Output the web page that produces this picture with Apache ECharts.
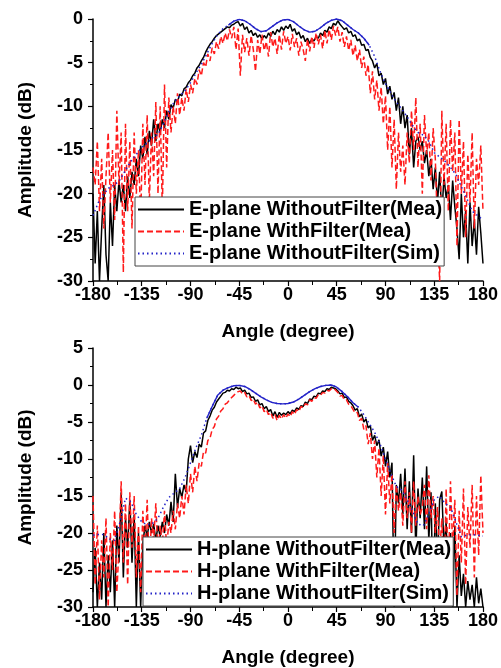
<!DOCTYPE html>
<html><head><meta charset="utf-8">
<script src="https://cdn.jsdelivr.net/npm/echarts@6/dist/echarts.min.js"></script>
<style>html,body{margin:0;padding:0;background:#fff}#c{width:501px;height:668px}</style>
</head><body><div id="c"></div>
<script>
// Measured data: angles -180..180 step 2 deg
const MEAS_START = -180, MEAS_STEP = 2;
// Simulated data: angles -180..180 step 5 deg
const SIM_START = -180, SIM_STEP = 5;
const xTicks = [-180,-135,-90,-45,0,45,90,135,180];

const eWithout = [-20,-28,-22,-30,-24,-19,-27,-30,-21,-26,-19,-22,-18.5,-21,-19,-22,-18,-20.5,-17.5,-19,-16,-18,-14.5,-16,-13.5,-15.5,-12.8,-14.5,-11.5,-14,-12,-13,-11.5,-12.5,-10.5,-11.5,-9.8,-10.2,-9.2,-9.5,-8.6,-8.8,-8,-7.8,-7.3,-7,-6.5,-6.2,-5.6,-5.3,-4.8,-4.4,-3.8,-3.3,-2.9,-2.6,-2.2,-1.9,-1.7,-1.5,-1.3,-1.1,-0.9,-1.0,-0.7,-0.6,-0.4,-0.3,-0.8,-0.5,-1.2,-0.9,-1.6,-1.3,-1.9,-1.6,-2.1,-1.8,-2.3,-1.9,-2.2,-1.6,-2.0,-1.4,-1.8,-1.2,-1.5,-0.9,-1.3,-0.8,-1.1,-0.6,-1.4,-1.1,-1.8,-1.5,-2.2,-1.9,-2.6,-2.2,-2.8,-2.3,-2.5,-2.0,-2.2,-1.6,-1.9,-1.3,-1.5,-0.9,-1.1,-0.5,-0.7,-0.2,-0.6,-0.9,-1.2,-1.0,-1.6,-1.4,-2.0,-1.8,-2.5,-2.3,-3.0,-2.9,-3.6,-3.5,-4.4,-4.8,-5.6,-5.1,-6.5,-6.2,-7.5,-6.8,-8.6,-7.7,-9.2,-8.4,-10.5,-9.0,-12.0,-10.0,-12.5,-11.0,-15.5,-12.5,-17.0,-14.0,-13.5,-15.0,-14.0,-16.5,-15.0,-18.0,-16.0,-19.5,-17.0,-21.0,-17.5,-22.5,-18.0,-20.5,-19.0,-23.0,-18.5,-21.5,-24.0,-27.5,-20.0,-25.0,-22.0,-28.0,-21.0,-26.0,-23.0,-27.0,-21.5,-24.5,-28.0];
const eWith = [-17,-19,-14,-22,-16,-24,-18,-13,-21,-15,-23,-10.5,-19,-13,-29,-12,-22,-14,-24,-13,-20,-15,-23,-12,-19,-11,-21,-13,-18,-9.5,-20,-10,-22,-7.5,-17,-9,-13,-10,-12,-8.5,-11,-9,-10.5,-8,-9.5,-7.5,-8.5,-6.8,-7.5,-5.8,-6.5,-5,-5.5,-4,-4.8,-3.3,-4,-2.6,-3.4,-2,-2.8,-1.6,-2.5,-1.2,-2.2,-0.9,-3.5,-1.1,-6.5,-1.8,-3.8,-2.2,-4.2,-1.9,-3.5,-6.0,-2.4,-4.0,-1.8,-3.6,-2.6,-4.3,-1.5,-3.2,-2.2,-4.0,-1.8,-3.5,-1.4,-2.8,-2.0,-3.6,-1.7,-3.2,-2.2,-4.2,-2.6,-3.5,-4.8,-2.3,-3.7,-2.0,-3.3,-1.6,-2.9,-1.8,-3.4,-1.3,-2.8,-1.2,-2.4,-0.8,-1.9,-0.9,-2.6,-1.5,-3.2,-2.0,-3.6,-2.4,-4.2,-3.0,-4.8,-3.5,-5.6,-4.3,-6.5,-5.2,-8.5,-6.0,-9.2,-7.0,-10.5,-7.8,-12.0,-8.8,-15.0,-10.0,-17.0,-11.5,-19.5,-13.0,-17.5,-14.5,-19.0,-13.0,-16.5,-10.5,-15.0,-9.0,-17.0,-12.0,-20.0,-11.0,-15.5,-13.0,-18.5,-12.5,-16.0,-24.0,-30.0,-10.5,-19.0,-12.0,-22.0,-11.5,-17.5,-13.0,-26.0,-11.5,-20.0,-14.0,-25.0,-15.5,-21.0,-13.0,-24.0,-16.0,-19.0,-14.5,-22.0];
const eSim = [-22.5,-21,-20,-19.3,-19,-18.4,-17.3,-16.3,-15.5,-14.7,-14.2,-13.6,-13.2,-12,-10.6,-9.5,-8.8,-8.2,-7.3,-6.2,-5.2,-4,-2.8,-1.8,-1.1,-0.7,-0.25,-0.05,-0.2,-0.6,-1.1,-1.45,-1.35,-0.9,-0.45,-0.12,-0.05,-0.3,-0.8,-1.25,-1.5,-1.4,-1.0,-0.5,-0.15,0,-0.2,-0.7,-1.2,-1.6,-2.2,-3.0,-4.3,-6,-7.4,-8.5,-9.5,-10.3,-11.2,-12.2,-13,-13.3,-14,-15.3,-15.8,-16.3,-17,-17.8,-19.2,-20.5,-22,-22.5,-23];

const hWithout = [-28,-22,-30,-24,-29,-20,-30,-23,-28,-21,-30,-19,-24,-14.5,-26,-18,-22,-15.5,-24,-17.5,-30,-20,-30,-21.5,-19,-20.5,-18.5,-20,-18.8,-21,-19,-20.5,-18.5,-20,-17.5,-19,-15.8,-18.5,-12,-16.5,-14,-15.2,-13.5,-14.5,-10,-8.2,-10.5,-9,-9.8,-8,-8.4,-6.5,-6.2,-4.8,-4.2,-3.4,-3.0,-2.3,-1.9,-1.5,-1.1,-1.0,-0.7,-0.8,-0.5,-0.6,-0.3,-0.5,-0.4,-0.9,-0.7,-1.2,-1.1,-1.7,-1.6,-2.2,-2.0,-2.7,-2.5,-3.2,-2.9,-3.6,-3.3,-4.2,-3.6,-4.4,-3.7,-4.1,-3.8,-4.0,-3.6,-3.9,-3.4,-3.6,-3.1,-3.3,-2.8,-2.9,-2.3,-2.5,-1.9,-2.0,-1.5,-1.6,-1.1,-1.2,-0.8,-0.9,-0.5,-0.6,-0.3,-0.4,-0.5,-0.8,-1.2,-1.1,-1.7,-1.6,-2.2,-2.4,-2.8,-3.4,-3.2,-4.3,-3.9,-5.0,-4.6,-5.8,-5.5,-7.5,-6.8,-8.2,-7.4,-9.6,-8.4,-11.0,-9.0,-12.5,-10.5,-30.0,-13.5,-16.0,-12.0,-17.5,-11.3,-19.5,-13.0,-20.0,-9.5,-22.5,-14.0,-18.0,-12.5,-19.5,-11.0,-21.0,-14.5,-30.0,-16.0,-24.0,-15.5,-14.4,-22.0,-18.5,-29.0,-20.0,-30.0,-19.0,-30.0,-23.0,-28.5,-25.5,-30.0,-26.5,-29.0,-27.0,-30.0,-26.0,-29.5,-27.5,-30.0];
const hWith = [-15,-27,-19,-29,-21,-26,-18,-30,-20,-25,-17,-28,-22,-13,-24,-16,-27,-14.5,-22,-15,-26,-19,-28,-17,-23,-15.5,-25,-18,-21,-16,-23,-19,-21.5,-17,-22,-18.5,-20,-17,-19.5,-16,-18,-15,-17.5,-13.5,-16,-12,-14.5,-11,-13,-10.5,-11,-9,-9.2,-7.5,-7.2,-6,-5.6,-4.6,-4.2,-3.5,-3.2,-2.6,-2.4,-2.0,-1.7,-1.4,-1.1,-0.9,-0.8,-1.2,-1.0,-1.6,-1.4,-2.1,-1.9,-2.6,-2.3,-3.1,-2.8,-3.6,-3.3,-4.0,-3.7,-4.5,-4.0,-4.8,-4.1,-4.6,-4.0,-4.5,-3.9,-4.3,-3.6,-4.0,-3.3,-3.6,-2.9,-3.1,-2.5,-2.7,-2.0,-2.2,-1.7,-1.8,-1.3,-1.4,-1.0,-1.1,-0.7,-0.8,-0.5,-0.4,-0.7,-1.0,-1.5,-1.4,-2.0,-2.0,-2.6,-2.8,-3.3,-3.8,-3.7,-4.8,-4.5,-6.0,-5.5,-8.0,-6.5,-10.0,-7.5,-12.5,-8.5,-15.0,-9.5,-17.5,-10.5,-16.0,-12.0,-20.0,-13.5,-17.0,-14.5,-19.0,-13.0,-18.0,-14.5,-20.0,-13.0,-19.0,-15.0,-17.5,-16.5,-13.5,-19.5,-12.2,-18.0,-15.0,-20.0,-16.5,-23.0,-18.0,-28.0,-14.0,-26.0,-13.0,-22.0,-15.5,-28.5,-17.0,-24.0,-14.0,-27.0,-16.5,-22.0,-13.5,-26.0,-15.0,-23.0,-12.2,-20.0];
const hSim = [-20.3,-20.2,-20.2,-20.8,-21,-18.5,-15.3,-15.8,-17.5,-18.5,-18.9,-18.7,-18,-16.5,-15.2,-14.6,-14,-12.5,-10.5,-8.5,-6.8,-4.5,-2.9,-1.4,-0.7,-0.35,-0.1,-0.05,-0.2,-0.6,-1.1,-1.6,-2.0,-2.35,-2.5,-2.55,-2.5,-2.3,-1.9,-1.4,-0.9,-0.5,-0.2,-0.05,0,-0.3,-0.9,-1.6,-2.4,-3.0,-4.0,-5.2,-6.4,-8.0,-10.0,-12.0,-13.7,-14.2,-15.5,-17.0,-18.8,-19.0,-17.5,-15.5,-15.0,-16.0,-16.5,-18.5,-20.5,-20.3,-20.2,-20.3,-20.4];

const names = {
  e: ['E-plane WithoutFilter(Mea)','E-plane WithFilter(Mea)','E-plane WithoutFilter(Sim)'],
  h: ['H-plane WithoutFilter(Mea)','H-plane WithFilter(Mea)','H-plane WithoutFilter(Sim)']
};

function pairs(vals, start, step){ return vals.map((v,i)=>[start+step*i, v]); }
function rangePairs(vals, start, step, lo, hi){ return pairs(vals,start,step).filter(p=>p[0]>=lo && p[0]<=hi); }

const FONT = "'Liberation Sans', Arial, sans-serif";
const BLACK = '#000000', RED = '#ff1a1a', BLUE = '#2323c8';

function xAxisCfg(gi){
  return {
    gridIndex: gi, type:'value', min:-180, max:180, interval:45,
    name:'Angle (degree)', nameLocation:'middle', nameGap:41,
    nameTextStyle:{fontFamily:FONT, fontWeight:'bold', fontSize:19, color:'#000'},
    axisLine:{onZero:false, lineStyle:{color:'#000', width:1.5}},
    axisTick:{show:true, inside:false, length:5, lineStyle:{color:'#000', width:1.2}},
    minorTick:{show:true, splitNumber:2, length:4, lineStyle:{color:'#000', width:1}},
    splitLine:{show:false},
    axisLabel:{fontFamily:FONT, fontWeight:'bold', fontSize:18, color:'#000', margin:5,
      formatter:v=>xTicks.indexOf(v)>=0 ? String(v) : ''}
  };
}
function yAxisCfg(gi, max){
  return {
    gridIndex: gi, type:'value', min:-30, max:max, interval:5,
    name:'Amplitude (dB)', nameLocation:'middle', nameGap:58, nameRotate:90,
    nameTextStyle:{fontFamily:FONT, fontWeight:'bold', fontSize:19, color:'#000'},
    axisLine:{show:true, onZero:false, lineStyle:{color:'#000', width:1.5}},
    axisTick:{show:true, inside:false, length:5, lineStyle:{color:'#000', width:1.2}},
    minorTick:{show:true, splitNumber:2, length:3, lineStyle:{color:'#000', width:1}},
    splitLine:{show:false},
    axisLabel:{fontFamily:FONT, fontWeight:'bold', fontSize:18, color:'#000', margin:10}
  };
}

function lineSeries(name, gi, data, color, type, width, z){
  return {name, type:'line', xAxisIndex:gi, yAxisIndex:gi, data, showSymbol:false, symbol:'none',
    animation:false, z, clip:true,
    lineStyle:{color, width, type}, itemStyle:{color}};
}

const series = [];
[['e',0,eWithout,eWith,eSim,[-55,75]],['h',1,hWithout,hWith,hSim,[-75,65]]].forEach(([k,gi,a,b,s,rng])=>{
  series.push(lineSeries(names[k][0], gi, pairs(a,MEAS_START,MEAS_STEP), BLACK, 'solid', 1.5, 2));
  series.push(lineSeries(names[k][1], gi, pairs(b,MEAS_START,MEAS_STEP), RED, [6,3], 1.5, 3));
  series.push(lineSeries(names[k][2], gi, pairs(s,SIM_START,SIM_STEP), BLUE, [1.5,3], 1.5, 4));
  series.push(lineSeries(k+'-sim-core', gi, rangePairs(s,SIM_START,SIM_STEP,rng[0],rng[1]), BLUE, 'solid', 1.4, 4));
});

function legendCfg(k, left, top){
  return {
    data: names[k], orient:'vertical', left, top,
    backgroundColor:'#fff', borderColor:'#444', borderWidth:1,
    padding:[2,2,2,2], itemGap:1, itemWidth:46, itemHeight:14,
    itemStyle:{opacity:0},
    textStyle:{fontFamily:FONT, fontWeight:'bold', fontSize:20, color:'#000', lineHeight:21},
    selectedMode:false
  };
}

const chart = echarts.init(document.getElementById('c'), null, {renderer:'canvas'});
chart.setOption({
  backgroundColor:'#fff',
  animation:false,
  grid:[
    {left:93, top:19, width:392, height:262, containLabel:false},
    {left:93, top:348, width:392, height:262, containLabel:false}
  ],
  xAxis:[xAxisCfg(0), xAxisCfg(1)],
  yAxis:[yAxisCfg(0,0), yAxisCfg(1,5)],
  legend:[legendCfg('e',135,197), legendCfg('h',143,537)],
  series
});
</script></body></html>
